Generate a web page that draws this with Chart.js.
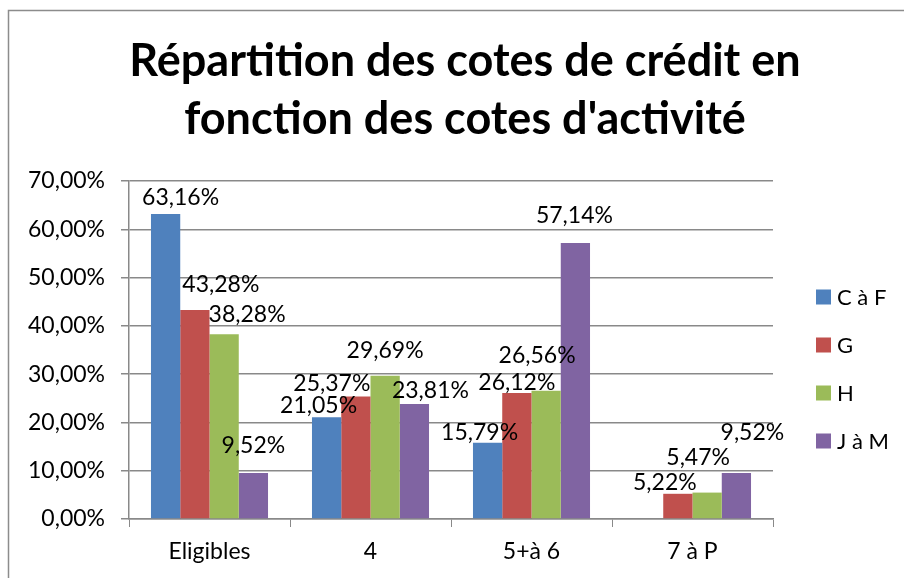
<!DOCTYPE html>
<html>
<head>
<meta charset="utf-8">
<script src="https://cdn.jsdelivr.net/npm/chart.js@4"></script>
<style>
  html, body { margin: 0; padding: 0; background: #fff; }
</style>
</head>
<body>
<canvas id="chart" width="904" height="578"></canvas>
<script>
const categories = ["Eligibles", "4", "5+à 6", "7 à P"];
const seriesNames = ["C à F", "G", "H", "J à M"];
const cToF = [63.16, 21.05, 15.79, null];
const gValues = [43.28, 25.37, 26.12, 5.22];
const hValues = [38.28, 29.69, 26.56, 5.47];
const jToM = [9.52, 23.81, 57.14, 9.52];
const titleLines = ["Répartition des cotes de crédit en", "fonction des cotes d'activité"];
const yMax = 70;
const yStep = 10;

const colors = ["#4F81BD", "#C0504D", "#9BBB59", "#8064A2"];
const FONT = "Lato, 'Open Sans', sans-serif";
const gridColor = "#898989";

// the data labels in the original were dragged around by hand a bit
const labelNudge = [
  [[15, 5], [-8, 0], [-8, -1], [0, 0]],
  [[26, 14], [-24, 1], [0, -1], [-13, 0]],
  [[23, 8], [0, 14], [-9, 24], [-9, 24]],
  [[0, 16], [16, 2], [-1, 16], [16, 29]],
];

function fmt(v) {
  return v.toFixed(2).replace(".", ",") + "%";
}

const frame = {
  id: "frame",
  beforeDraw(chart) {
    const ctx = chart.ctx;
    ctx.save();
    ctx.fillStyle = "#fff";
    ctx.fillRect(0, 0, chart.width, chart.height);
    ctx.restore();
  },
  afterDraw(chart) {
    const ctx = chart.ctx;
    ctx.save();
    ctx.strokeStyle = "#8c8c8c";
    ctx.lineWidth = 1.5;
    ctx.strokeRect(8.5, 10.5, chart.width + 10, chart.height + 10);
    // title, centred over the whole frame (not just the plot)
    ctx.font = "bold 45px " + FONT;
    ctx.fillStyle = "#000";
    ctx.textAlign = "center";
    ctx.textBaseline = "alphabetic";
    ctx.fillText(titleLines[0], 465, 76);
    ctx.fillText(titleLines[1], 465, 134);
    ctx.restore();
  },
};

const valueLabels = {
  id: "valueLabels",
  afterDatasetsDraw(chart) {
    const ctx = chart.ctx;
    ctx.save();
    ctx.font = "23px " + FONT;
    ctx.fillStyle = "#000";
    ctx.textAlign = "center";
    ctx.textBaseline = "alphabetic";
    chart.data.datasets.forEach((ds, i) => {
      chart.getDatasetMeta(i).data.forEach((bar, j) => {
        const v = ds.data[j];
        if (v === null || v === undefined) return;
        const n = labelNudge[i][j];
        ctx.fillText(fmt(v), bar.x + n[0], bar.y - 4 - n[1]);
      });
    });
    ctx.restore();
  },
};

const sideLegend = {
  id: "sideLegend",
  afterDraw(chart) {
    const ctx = chart.ctx;
    ctx.save();
    ctx.font = "22px " + FONT;
    ctx.textBaseline = "middle";
    chart.data.datasets.forEach((ds, i) => {
      const y = 297 + i * 48;
      ctx.fillStyle = ds.backgroundColor;
      ctx.fillRect(816, y - 7.5, 15, 15);
      ctx.fillStyle = "#000";
      ctx.fillText(ds.label, 837, y + 1);
    });
    ctx.restore();
  },
};

const allSeries = [cToF, gValues, hValues, jToM];

new Chart(document.getElementById("chart"), {
  type: "bar",
  data: {
    labels: categories,
    datasets: allSeries.map((vals, i) => ({
      label: seriesNames[i],
      data: vals,
      backgroundColor: colors[i],
      borderWidth: 0,
      categoryPercentage: 0.727,
      barPercentage: 1.0,
    })),
  },
  options: {
    responsive: false,
    animation: false,
    layout: { padding: { left: 0, right: 131, top: 181, bottom: 0 } },
    plugins: {
      legend: { display: false },
      tooltip: { enabled: false },
      title: { display: false },
    },
    scales: {
      x: {
        grid: {
          display: true,
          drawOnChartArea: false,
          drawTicks: true,
          tickLength: 8,
          color: gridColor,
          offset: true,
        },
        border: { display: true, color: gridColor, width: 1.5 },
        ticks: { color: "#000", font: { family: FONT, size: 23 }, padding: 11 },
        afterFit(s) { s.height = 59; },
      },
      y: {
        min: 0,
        max: yMax,
        grid: { color: gridColor, lineWidth: 1.5, tickLength: 8 },
        border: { display: true, color: gridColor, width: 1.5 },
        ticks: {
          stepSize: yStep,
          color: "#000",
          font: { family: FONT, size: 23 },
          padding: 16,
          callback: (v) => fmt(v),
        },
        afterFit(s) { s.width = 129; },
      },
    },
  },
  plugins: [frame, valueLabels, sideLegend],
});
</script>
</body>
</html>
